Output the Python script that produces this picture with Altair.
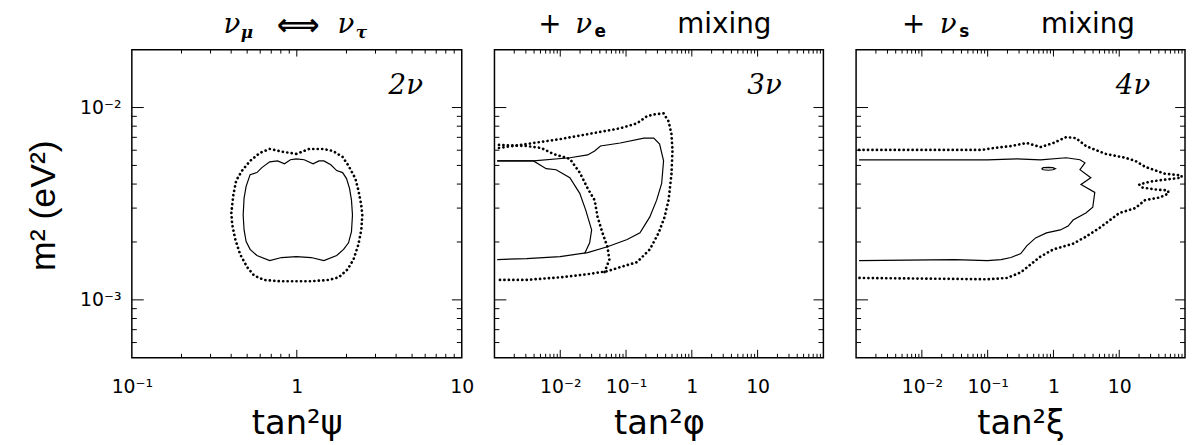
import altair as alt
import pandas as pd

# ---------------- axis ranges, ticks and labels ----------------
Y_RANGE = [5e-4, 2e-2]
X1_RANGE = [0.1, 10.0]
X23_RANGE = [1e-3, 100.0]

Y_MAJOR = [1e-3, 1e-2]
Y_MINOR = [6e-4, 7e-4, 8e-4, 9e-4, 2e-3, 3e-3, 4e-3, 5e-3, 6e-3, 7e-3, 8e-3, 9e-3]
X1_MAJOR = [1.0]
X1_MINOR = [0.2, 0.3, 0.4, 0.5, 0.6, 0.7, 0.8, 0.9, 2.0, 3.0, 4.0, 5.0, 6.0, 7.0, 8.0, 9.0]
X23_MAJOR = [1e-2, 1e-1, 1.0, 10.0]
X23_MINOR = [2e-3, 3e-3, 4e-3, 5e-3, 6e-3, 7e-3, 8e-3, 9e-3,
             0.02, 0.03, 0.04, 0.05, 0.06, 0.07, 0.08, 0.09,
             0.2, 0.3, 0.4, 0.5, 0.6, 0.7, 0.8, 0.9,
             2.0, 3.0, 4.0, 5.0, 6.0, 7.0, 8.0, 9.0,
             20.0, 30.0, 40.0, 50.0, 60.0, 70.0, 80.0, 90.0]

Y_LABEL_VALUES = [1e-3, 1e-2]
Y_LABEL_TEXT = ["10⁻³", "10⁻²"]
X1_LABEL_VALUES = [0.1, 1.0, 10.0]
X1_LABEL_TEXT = ["10⁻¹", "1", "10"]
X23_LABEL_VALUES = [0.01, 0.1, 1.0, 10.0]
X23_LABEL_TEXT = ["10⁻²", "10⁻¹", "1", "10"]

Y_TITLE = "m² (eV²)"
X_TITLES = ["tan²ψ", "tan²φ", "tan²ξ"]
PANEL_TAGS = ["2ν", "3ν", "4ν"]
TITLE1 = ["ν", "μ", "⟺", "ν", "τ"]
TITLE2 = ["+", "ν", "e", "mixing"]
TITLE3 = ["+", "ν", "s", "mixing"]

# ---------------- panel 1 (2 nu) contours ----------------
P1_SOLID_X = [0.993, 1.109, 1.255, 1.362, 1.46, 1.607, 1.745, 1.895, 2.002, 2.087,
              2.145, 2.175, 2.145, 2.058, 1.921, 1.745, 1.46, 1.221, 0.993, 0.808,
              0.685, 0.573, 0.521, 0.493, 0.479, 0.473, 0.479, 0.493, 0.521, 0.573,
              0.614, 0.685, 0.765, 0.842, 0.915, 0.993]
P1_SOLID_Y = [5.41e-3, 5.35e-3, 5.10e-3, 5.28e-3, 5.28e-3, 5.04e-3, 4.70e-3, 4.59e-3, 4.27e-3, 3.80e-3,
              3.30e-3, 2.76e-3, 2.26e-3, 1.98e-3, 1.83e-3, 1.70e-3, 1.60e-3, 1.66e-3, 1.68e-3, 1.66e-3,
              1.60e-3, 1.70e-3, 1.83e-3, 2.01e-3, 2.31e-3, 2.76e-3, 3.38e-3, 3.89e-3, 4.48e-3, 4.59e-3,
              4.87e-3, 5.22e-3, 5.28e-3, 5.10e-3, 5.35e-3, 5.41e-3]
P1_DOT_X = [0.993, 1.188, 1.44, 1.652, 1.895, 2.058, 2.266, 2.362, 2.46, 2.495,
            2.46, 2.362, 2.205, 2.03, 1.794, 1.563, 1.221, 0.993, 0.786, 0.631,
            0.55, 0.50, 0.454, 0.424, 0.406, 0.401, 0.412, 0.429, 0.466, 0.521,
            0.597, 0.685, 0.83, 0.993]
P1_DOT_Y = [5.74e-3, 6.09e-3, 6.09e-3, 5.95e-3, 5.54e-3, 4.98e-3, 4.27e-3, 3.71e-3, 3.11e-3, 2.76e-3,
            2.31e-3, 1.94e-3, 1.62e-3, 1.44e-3, 1.31e-3, 1.27e-3, 1.25e-3, 1.25e-3, 1.25e-3, 1.27e-3,
            1.34e-3, 1.48e-3, 1.72e-3, 2.06e-3, 2.45e-3, 2.83e-3, 3.50e-3, 4.17e-3, 4.70e-3, 5.28e-3,
            5.81e-3, 6.09e-3, 5.88e-3, 5.74e-3]

# ---------------- panel 2 (3 nu) contours ----------------
P2_SOLID_A_X = [1.1e-3, 3.91e-3, 1.40e-2, 2.61e-2, 3.33e-2, 4.09e-2, 8.16e-2, 0.187, 0.264, 0.324,
                0.372, 0.348, 0.292, 0.230, 0.163, 0.104, 5.21e-2, 2.61e-2, 9.93e-3, 3.07e-3, 1.1e-3]
P2_SOLID_A_Y = [5.28e-3, 5.28e-3, 5.48e-3, 5.67e-3, 5.95e-3, 6.31e-3, 6.54e-3, 6.93e-3, 6.93e-3, 6.46e-3,
                5.28e-3, 4.03e-3, 3.30e-3, 2.70e-3, 2.23e-3, 2.06e-3, 1.89e-3, 1.76e-3, 1.68e-3, 1.64e-3, 1.62e-3]
P2_SOLID_B_X = [1.1e-3, 3.91e-3, 6.12e-3, 8.65e-3, 1.40e-2, 1.98e-2, 2.44e-2, 3.0e-2, 2.80e-2, 2.35e-2]
P2_SOLID_B_Y = [5.28e-3, 5.28e-3, 4.81e-3, 4.75e-3, 4.32e-3, 3.58e-3, 2.93e-3, 2.31e-3, 1.98e-3, 1.74e-3]
P2_DOT_A_X = [1.17e-3, 3.07e-3, 9.93e-3, 2.61e-2, 8.16e-2, 0.147, 0.207, 0.264, 0.372, 0.443,
              0.491, 0.508, 0.491, 0.443, 0.386, 0.313, 0.230, 0.147, 8.16e-2, 5.21e-2,
              2.61e-2, 9.93e-3, 3.07e-3, 1.17e-3]
P2_DOT_A_Y = [6.16e-3, 6.46e-3, 6.85e-3, 7.27e-3, 7.80e-3, 8.28e-3, 9.0e-3, 9.21e-3, 9.32e-3, 8.48e-3,
              7.27e-3, 5.95e-3, 4.53e-3, 3.30e-3, 2.70e-3, 2.23e-3, 1.83e-3, 1.57e-3, 1.48e-3, 1.41e-3,
              1.36e-3, 1.31e-3, 1.27e-3, 1.27e-3]
P2_DOT_B_X = [1.17e-3, 3.07e-3, 5.15e-3, 7.80e-3, 1.40e-2, 1.98e-2, 2.61e-2, 3.33e-2, 3.69e-2, 4.38e-2,
              5.21e-2, 5.58e-2, 4.70e-2]
P2_DOT_B_Y = [6.39e-3, 6.31e-3, 6.16e-3, 5.74e-3, 5.41e-3, 4.59e-3, 3.80e-3, 3.30e-3, 2.70e-3, 2.23e-3,
              1.89e-3, 1.62e-3, 1.39e-3]

# ---------------- panel 3 (4 nu) contours ----------------
P3_SOLID_X = [1.11e-3, 9.86e-2, 0.278, 0.636, 1.56, 2.53, 3.01, 2.53, 3.70, 2.62,
              4.25, 3.96, 3.11, 1.99, 1.67, 1.27, 0.783, 0.535, 0.393, 0.319,
              0.226, 0.160, 9.86e-2, 3.16e-2, 1.11e-3]
P3_SOLID_Y = [5.35e-3, 5.35e-3, 5.41e-3, 5.35e-3, 5.48e-3, 5.35e-3, 5.16e-3, 4.75e-3, 4.32e-3, 3.98e-3,
              3.62e-3, 3.03e-3, 2.83e-3, 2.60e-3, 2.42e-3, 2.31e-3, 2.23e-3, 2.10e-3, 1.91e-3, 1.74e-3,
              1.66e-3, 1.62e-3, 1.60e-3, 1.62e-3, 1.60e-3]
P3_ISLAND_X = [0.659, 0.70, 0.839, 0.98, 1.07, 0.98, 0.839, 0.70, 0.659]
P3_ISLAND_Y = [4.81e-3, 4.87e-3, 4.89e-3, 4.87e-3, 4.81e-3, 4.75e-3, 4.72e-3, 4.75e-3, 4.81e-3]
P3_DOT_X = [1.11e-3, 8.02e-2, 0.1256, 0.226, 0.393, 0.636, 0.997, 1.56, 2.20, 3.11,
            6.21, 12.4, 17.5, 24.7, 49.3, 88.7, 88.7, 49.3, 29.4, 20.1,
            22.3, 34.9, 54.7, 56.6, 41.5, 24.7, 17.5, 10.07, 5.05, 3.11,
            1.99, 0.997, 0.636, 0.451, 0.319, 0.197, 9.86e-2, 1.11e-3]
P3_DOT_Y = [6.02e-3, 6.02e-3, 6.16e-3, 6.31e-3, 6.54e-3, 6.23e-3, 6.54e-3, 7.02e-3, 6.93e-3, 6.31e-3,
            5.74e-3, 5.48e-3, 5.28e-3, 4.92e-3, 4.53e-3, 4.43e-3, 4.32e-3, 4.22e-3, 4.12e-3, 3.98e-3,
            3.84e-3, 3.75e-3, 3.71e-3, 3.58e-3, 3.41e-3, 3.30e-3, 3.00e-3, 2.83e-3, 2.37e-3, 2.13e-3,
            1.96e-3, 1.83e-3, 1.68e-3, 1.53e-3, 1.39e-3, 1.30e-3, 1.28e-3, 1.30e-3]

# ---------------- helpers ----------------
H = 311
SANS = "DejaVu Sans"
SERIF = "DejaVu Serif"


def curves(*pairs):
    frames = []
    for cid, (xs, ys) in enumerate(pairs):
        frames.append(pd.DataFrame({"x": xs, "y": ys, "curve": cid, "i": range(len(xs))}))
    return pd.concat(frames, ignore_index=True)


def label_expr(vals, texts):
    expr = "''"
    for v, t in zip(reversed(vals), reversed(texts)):
        expr = f"abs(datum.value - {v}) < {v} * 1e-6 ? '{t}' : {expr}"
    return expr


def text_layer(txt, x, y, size, font, style="normal", weight="normal", align="left", baseline="alphabetic"):
    return alt.Chart(pd.DataFrame({"t": [txt]})).mark_text(
        font=font, fontSize=size, fontStyle=style, fontWeight=weight,
        align=align, baseline=baseline, color="black"
    ).encode(text="t:N", x=alt.value(x), y=alt.value(y))


def panel(solid, dotted, xdom, xmaj, xmin, xlab_vals, xlab_txt, xtitle, W, show_y, titles, tag, tag_x):
    xs = alt.Scale(type="log", domain=xdom, nice=False)
    ys = alt.Scale(type="log", domain=Y_RANGE, nice=False)
    xaxis = alt.Axis(values=xlab_vals, labelExpr=label_expr(xlab_vals, xlab_txt), title=xtitle,
                     ticks=False, domain=False, grid=False, labelPadding=20, labelFontSize=19,
                     labelFont=SANS, labelColor="black", labelFlush=False, labelOverlap=False,
                     titleFont=SANS, titleFontSize=34, titleFontWeight="normal", titleColor="black",
                     titleY=76, titleBaseline="alphabetic")
    if show_y:
        yaxis = alt.Axis(values=Y_LABEL_VALUES, labelExpr=label_expr(Y_LABEL_VALUES, Y_LABEL_TEXT),
                         title=Y_TITLE, ticks=False, domain=False, grid=False, labelPadding=11,
                         labelFontSize=19, labelFont=SANS, labelColor="black", labelFlush=False,
                         titleFont="Liberation Sans", titleFontSize=36, titleFontWeight="normal",
                         titleColor="black", titleAngle=270, titleX=-89, titleY=157,
                         titleAlign="center", titleBaseline="middle")
    else:
        yaxis = None

    X = lambda: alt.X("x:Q", scale=xs, axis=xaxis)
    Y = lambda: alt.Y("y:Q", scale=ys, axis=yaxis)

    layers = []
    layers.append(alt.Chart(solid).mark_line(color="black", strokeWidth=1.2, clip=True).encode(
        x=X(), y=Y(), detail="curve:N", order=alt.Order("i:Q")))
    layers.append(alt.Chart(dotted).mark_line(color="black", strokeWidth=2.7, strokeDash=[0.1, 4.4],
                                              strokeCap="round", clip=True).encode(
        x=X(), y=Y(), detail="curve:N", order=alt.Order("i:Q")))

    # inward ticks on all four sides
    for vals, lb, lt in ((xmaj, 8, 7), (xmin, 4, 4)):
        d = pd.DataFrame({"x": vals})
        layers.append(alt.Chart(d).mark_rule(color="black", strokeWidth=1).encode(
            x=X(), y=alt.value(H), y2=alt.value(H - lb)))
        layers.append(alt.Chart(d).mark_rule(color="black", strokeWidth=1).encode(
            x=X(), y=alt.value(0), y2=alt.value(lt)))
    for vals, ll, lr in ((Y_MAJOR, 12, 10), (Y_MINOR, 5, 5)):
        d = pd.DataFrame({"y": vals})
        layers.append(alt.Chart(d).mark_rule(color="black", strokeWidth=1).encode(
            y=Y(), x=alt.value(0), x2=alt.value(ll)))
        layers.append(alt.Chart(d).mark_rule(color="black", strokeWidth=1).encode(
            y=Y(), x=alt.value(W), x2=alt.value(W - lr)))

    layers.extend(titles)
    layers.append(text_layer(tag, tag_x, 45, 28, SERIF, style="italic", align="right"))
    return alt.layer(*layers).properties(width=W, height=H)


W1, W2, W3 = 333, 332, 332

t1 = [
    text_layer(TITLE1[0], 101, -17, 28, SERIF, style="italic", align="center"),
    text_layer(TITLE1[1], 110, -12, 17, SERIF, style="italic", weight="bold"),
    text_layer(TITLE1[2], 168, -24, 30, SANS, weight="bold", align="center", baseline="middle"),
    text_layer(TITLE1[3], 216, -17, 28, SERIF, style="italic", align="center"),
    text_layer(TITLE1[4], 226, -12, 17, SERIF, style="italic", weight="bold"),
]
t2 = [
    text_layer(TITLE2[0], 56, -17, 28, SANS, align="center"),
    text_layer(TITLE2[1], 90, -17, 28, SERIF, style="italic", align="center"),
    text_layer(TITLE2[2], 101, -13, 17, SANS, weight="bold"),
    text_layer(TITLE2[3], 232, -17, 28, SANS, align="center"),
]
t3 = [
    text_layer(TITLE3[0], 58, -17, 28, SANS, align="center"),
    text_layer(TITLE3[1], 93, -17, 28, SERIF, style="italic", align="center"),
    text_layer(TITLE3[2], 104, -13, 17, SANS, weight="bold"),
    text_layer(TITLE3[3], 234, -17, 28, SANS, align="center"),
]

p1 = panel(curves((P1_SOLID_X, P1_SOLID_Y)), curves((P1_DOT_X, P1_DOT_Y)),
           X1_RANGE, X1_MAJOR, X1_MINOR, X1_LABEL_VALUES, X1_LABEL_TEXT, X_TITLES[0],
           W1, True, t1, PANEL_TAGS[0], W1 - 39)
p2 = panel(curves((P2_SOLID_A_X, P2_SOLID_A_Y), (P2_SOLID_B_X, P2_SOLID_B_Y)),
           curves((P2_DOT_A_X, P2_DOT_A_Y), (P2_DOT_B_X, P2_DOT_B_Y)),
           X23_RANGE, X23_MAJOR, X23_MINOR, X23_LABEL_VALUES, X23_LABEL_TEXT, X_TITLES[1],
           W2, False, t2, PANEL_TAGS[1], W2 - 42)
p3 = panel(curves((P3_SOLID_X, P3_SOLID_Y), (P3_ISLAND_X, P3_ISLAND_Y)),
           curves((P3_DOT_X, P3_DOT_Y)),
           X23_RANGE, X23_MAJOR, X23_MINOR, X23_LABEL_VALUES, X23_LABEL_TEXT, X_TITLES[2],
           W3, False, t3, PANEL_TAGS[2], W3 - 35)

chart = alt.hconcat(p1, p2, p3, spacing=33, bounds="flush").properties(
    padding={"left": 17, "top": 0, "right": 0, "bottom": 0},
    background="white",
).configure_view(stroke="black", strokeWidth=1.5)

chart.save("out.html", embed_options={"renderer": "svg", "actions": False})
